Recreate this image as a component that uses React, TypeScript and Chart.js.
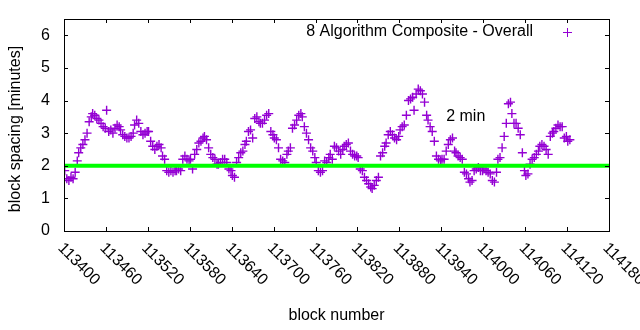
import React, { useEffect, useRef } from "react";
import { Chart, registerables } from "chart.js";

Chart.register(...registerables);

// ---- data ----
const blocks = [
  113401, 113404, 113407, 113410, 113413, 113416, 113419,
  113421, 113424, 113427, 113430, 113433, 113436, 113439,
  113441, 113444, 113447, 113450, 113453, 113456, 113459,
  113461, 113464, 113467, 113470, 113473, 113476, 113479,
  113481, 113484, 113487, 113490, 113493, 113496, 113499,
  113501, 113504, 113507, 113510, 113513, 113516, 113519,
  113521, 113524, 113527, 113530, 113533, 113536, 113539,
  113541, 113544, 113547, 113550, 113553, 113556, 113559,
  113561, 113564, 113567, 113570, 113573, 113576, 113579,
  113581, 113584, 113587, 113590, 113593, 113596, 113599,
  113601, 113604, 113607, 113610, 113613, 113616, 113619,
  113621, 113624, 113627, 113630, 113633, 113636, 113639,
  113641, 113644, 113647, 113650, 113653, 113656, 113659,
  113661, 113664, 113667, 113670, 113673, 113676, 113679,
  113681, 113684, 113687, 113690, 113693, 113696, 113699,
  113701, 113704, 113707, 113710, 113713, 113716, 113719,
  113721, 113724, 113727, 113730, 113733, 113736, 113739,
  113741, 113744, 113747, 113750, 113753, 113756, 113759,
  113761, 113764, 113767, 113770, 113773, 113776, 113779,
  113781, 113784, 113787, 113790, 113793, 113796, 113799,
  113801, 113804, 113807, 113810, 113813, 113816, 113819,
  113821, 113824, 113827, 113830, 113833, 113836, 113839,
  113841, 113844, 113847, 113850, 113853, 113856, 113859,
  113861, 113864, 113867, 113870, 113873, 113876, 113879,
  113881, 113884, 113887, 113890, 113893, 113896, 113899,
  113901, 113904, 113907, 113910, 113913, 113916, 113919,
  113921, 113924, 113927, 113930, 113933, 113936, 113939,
  113941, 113944, 113947, 113950, 113953, 113956, 113959,
  113961, 113964, 113967, 113970, 113973, 113976, 113979,
  113981, 113984, 113987, 113990, 113993, 113996, 113999,
  114001, 114004, 114007, 114010, 114013, 114016, 114019,
  114021, 114024, 114027, 114030, 114033, 114036, 114039,
  114041, 114044, 114047, 114050, 114053, 114056, 114059,
  114061, 114064, 114067, 114070, 114073, 114076, 114079,
  114081, 114084, 114087, 114090, 114093, 114096, 114099,
  114101, 114104, 114107, 114110, 114113, 114116, 114119,
  114121, 114124,
];

const spacing = [
  1.85, 1.6, 1.55, 1.65, 1.6, 1.8, 2.15,
  2.4, 2.55, 2.65, 2.8, 3.0, 3.35, 3.5,
  3.6, 3.55, 3.45, 3.4, 3.3, 3.2, 3.15,
  3.7, 3.05, 3.1, 3.0, 3.15, 3.25, 3.2,
  3.1, 2.95, 2.9, 2.85, 2.85, 2.9, 3.0,
  3.25, 3.4, 3.3, 3.05, 2.95, 3.0, 3.05,
  3.05, 2.75, 2.6, 2.5, 2.6, 2.65, 2.55,
  2.3, 2.2, 1.85, 1.8, 1.85, 1.8, 1.85,
  1.85, 1.9, 1.85, 2.2, 2.3, 2.2, 2.15,
  2.2, 1.9, 2.35, 2.5, 2.7, 2.75, 2.85,
  2.9, 2.8, 2.55, 2.35, 2.25, 2.2, 2.05,
  2.05, 2.1, 2.2, 2.2, 2.1, 1.9, 1.85,
  1.7, 1.65, 2.1, 2.25, 2.4, 2.45, 2.65,
  2.75, 3.05, 3.1, 2.85, 3.45, 3.5, 3.35,
  3.3, 3.3, 3.4, 3.55, 3.6, 3.05, 2.95,
  2.85, 2.8, 2.55, 2.2, 2.15, 2.1, 2.35,
  2.45, 2.55, 3.15, 3.25, 3.4, 3.55, 3.6,
  3.5, 3.2, 3.0, 2.8, 2.55, 2.45, 2.25,
  2.1, 1.85, 1.8, 1.85, 2.15, 2.1, 2.25,
  2.35, 2.2, 2.6, 2.55, 2.45, 2.35, 2.5,
  2.6, 2.65, 2.7, 2.45, 2.35, 2.3, 2.3,
  2.25, 1.9, 1.85, 1.65, 1.55, 1.45, 1.35,
  1.3, 1.4, 1.55, 1.65, 2.3, 2.4, 2.6,
  2.7, 2.95, 3.05, 2.95, 2.85, 2.8, 2.9,
  3.1, 3.2, 3.25, 3.55, 4.0, 4.05, 4.1,
  3.7, 4.2, 4.35, 4.3, 4.2, 3.95, 3.55,
  3.4, 3.2, 3.05, 2.75, 2.3, 2.2, 2.15,
  2.2, 2.2, 2.45, 2.65, 2.8, 2.85, 2.45,
  2.4, 2.3, 2.25, 2.2, 1.8, 1.75, 1.6,
  1.5, 1.55, 1.85, 1.9, 1.95, 1.85, 1.85,
  1.9, 1.85, 1.8, 1.75, 1.55, 1.5, 1.8,
  2.2, 2.25, 2.55, 2.9, 3.3, 3.9, 3.95,
  3.6, 3.3, 3.3, 3.15, 2.95, 2.4, 1.85,
  1.7, 1.75, 2.05, 2.2, 2.25, 2.35, 2.45,
  2.6, 2.65, 2.6, 2.5, 2.35, 2.9, 3.0,
  3.05, 3.15, 3.25, 3.2, 3.2, 2.85, 2.9,
  2.75, 2.8,
];

const refValue = 2;
const xTicks = [
  113400, 113460, 113520, 113580, 113640, 113700, 113760,
  113820, 113880, 113940, 114000, 114060, 114120, 114180,
];
const yTicks = [0, 1, 2, 3, 4, 5, 6];
const xMin = 113400;
const xMax = 114180;
const yMin = 0;
const yMax = 6.5;

const seriesLabel = "8 Algorithm Composite - Overall";
const refLabel = "2 min";
const refLabelAt = { x: 113947, y: 3.5 };
const xTitle = "block number";
const yTitle = "block spacing [minutes]";

const PURPLE = "#9400d3";
const GREEN = "#00ff00";
const FONT = '16px "Liberation Sans", Arial, sans-serif';

const decorPlugin = {
  id: "gnuplotDecor",
  afterDraw(chart: any) {
    const ctx: CanvasRenderingContext2D = chart.ctx;
    const { left, right, top, bottom } = chart.chartArea;
    const xs = chart.scales.x;
    const ys = chart.scales.y;
    const tl = 4;
    ctx.save();
    ctx.strokeStyle = "#000";
    ctx.lineWidth = 1;
    // border
    ctx.strokeRect(Math.round(left) + 0.5, Math.round(top) + 0.5, Math.round(right - left), Math.round(bottom - top));
    // ticks (mirrored, inward)
    ctx.beginPath();
    xTicks.forEach((t) => {
      const px = Math.round(xs.getPixelForValue(t)) + 0.5;
      ctx.moveTo(px, bottom);
      ctx.lineTo(px, bottom - tl);
      ctx.moveTo(px, top);
      ctx.lineTo(px, top + tl);
    });
    yTicks.forEach((t) => {
      const py = Math.round(ys.getPixelForValue(t)) + 0.5;
      ctx.moveTo(left, py);
      ctx.lineTo(left + tl, py);
      ctx.moveTo(right, py);
      ctx.lineTo(right - tl, py);
    });
    ctx.stroke();

    ctx.fillStyle = "#000";
    ctx.font = FONT;
    // y tick labels
    ctx.textAlign = "right";
    ctx.textBaseline = "middle";
    yTicks.forEach((t) => {
      ctx.fillText(String(t), left - 14, ys.getPixelForValue(t));
    });
    // x tick labels, rotated clockwise
    ctx.textAlign = "left";
    ctx.textBaseline = "top";
    xTicks.forEach((t) => {
      const px = xs.getPixelForValue(t);
      ctx.save();
      ctx.translate(px + 2, bottom + 9);
      ctx.rotate(Math.PI / 4);
      ctx.fillText(String(t), 0, 0);
      ctx.restore();
    });
    // axis titles
    ctx.textAlign = "center";
    ctx.textBaseline = "middle";
    ctx.fillText(xTitle, (left + right) / 2, 316);
    ctx.save();
    ctx.translate(16, 129);
    ctx.rotate(-Math.PI / 2);
    ctx.fillText(yTitle, 0, 0);
    ctx.restore();
    // key
    ctx.textAlign = "right";
    ctx.fillText(seriesLabel, 533, 32);
    ctx.strokeStyle = PURPLE;
    ctx.beginPath();
    ctx.moveTo(563, 32.5);
    ctx.lineTo(572, 32.5);
    ctx.moveTo(567.5, 28);
    ctx.lineTo(567.5, 37);
    ctx.stroke();
    // reference label
    ctx.fillStyle = "#000";
    ctx.textAlign = "left";
    ctx.fillText(refLabel, xs.getPixelForValue(refLabelAt.x), ys.getPixelForValue(refLabelAt.y));
    ctx.restore();
  },
};

export default function App() {
  const ref = useRef<HTMLCanvasElement>(null);
  useEffect(() => {
    document.body.style.margin = "0";
    const canvas = ref.current!;
    const chart = new Chart(canvas, {
      type: "scatter",
      data: {
        datasets: [
          {
            type: "line",
            label: refLabel,
            data: [
              { x: xMin, y: refValue },
              { x: xMax, y: refValue },
            ],
            borderColor: GREEN,
            backgroundColor: GREEN,
            borderWidth: 4,
            pointRadius: 0,
            fill: false,
          } as any,
          {
            label: seriesLabel,
            data: blocks.map((b, i) => ({ x: b, y: spacing[i] })),
            pointStyle: "cross",
            pointRadius: 4.5,
            pointHoverRadius: 4.5,
            borderColor: PURPLE,
            backgroundColor: PURPLE,
            borderWidth: 1.4,
          },
        ],
      },
      options: {
        responsive: false,
        animation: false,
        events: [],
        layout: { padding: { left: 64, right: 31, top: 19, bottom: 99 } },
        plugins: { legend: { display: false }, tooltip: { enabled: false } },
        scales: {
          x: { type: "linear", min: xMin, max: xMax, display: false },
          y: { type: "linear", min: yMin, max: yMax, display: false },
        },
      },
      plugins: [decorPlugin],
    });
    return () => chart.destroy();
  }, []);
  return <canvas ref={ref} width={640} height={330} style={{ display: "block" }} />;
}
